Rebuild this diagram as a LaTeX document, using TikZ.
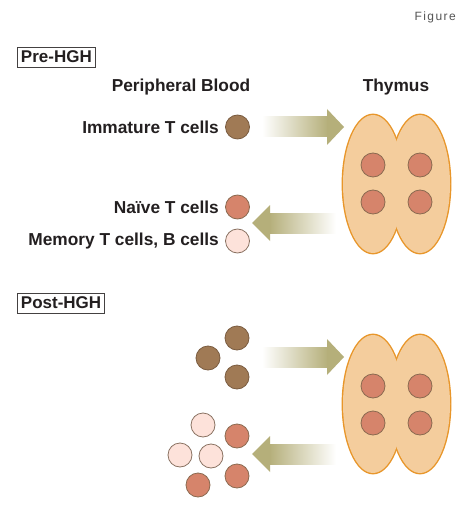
\documentclass[tikz,border=0pt]{standalone}
\usepackage{fontspec}
\setmainfont{Liberation Sans}
\usetikzlibrary{positioning}
\definecolor{txt}{HTML}{231F20}
\definecolor{arrowc}{HTML}{B5AF7A}
\definecolor{immc}{HTML}{A07A55}
\definecolor{immo}{HTML}{7A5C40}
\definecolor{naic}{HTML}{D6846B}
\definecolor{naio}{HTML}{8A6A50}
\definecolor{memc}{HTML}{FDE2DA}
\definecolor{memo}{HTML}{8A7262}
\definecolor{thyc}{HTML}{F4CD9D}
\definecolor{thyo}{HTML}{E8962A}
\definecolor{figc}{HTML}{555555}
\tikzset{
  lbl/.style={text=txt, font=\fontsize{17.3}{20}\selectfont\bfseries, inner sep=0pt},
  sectbox/.style={draw=txt!85, line width=0.9pt, text=txt, font=\fontsize{17}{20}\selectfont\bfseries, minimum height=20pt, inner sep=2pt, inner xsep=3.5pt},
  cell/.style={circle, minimum size=24pt, inner sep=0pt, line width=0.8pt},
  immcell/.style={cell, fill=immc, draw=immo},
  naicell/.style={cell, fill=naic, draw=naio},
  memcell/.style={cell, fill=memc, draw=memo},
  thycell/.style={cell, minimum size=24pt, fill=naic, draw=naio},
}
\newcommand\thymuslobes[1]{%
  \draw[thyo, line width=2.8pt] (373,#1) ellipse [x radius=30, y radius=69];
  \draw[thyo, line width=2.8pt] (420,#1) ellipse [x radius=30, y radius=69];
  \fill[thyc] (373,#1) ellipse [x radius=30, y radius=69];
  \fill[thyc] (420,#1) ellipse [x radius=30, y radius=69];
}
\newcommand\rightfat[2]{% y center, name
  \shade[left color=white, right color=arrowc] (262,#1-10) rectangle (328,#1+10);
  \fill[arrowc] (327,#1-18) -- (344,#1) -- (327,#1+18) -- cycle;
  \coordinate (#2) at (344,#1);
}
\newcommand\leftfat[2]{% y center, name
  \shade[left color=arrowc, right color=white] (269,#1-10) rectangle (336,#1+10);
  \fill[arrowc] (270,#1-18) -- (252,#1) -- (270,#1+18) -- cycle;
  \coordinate (#2) at (252,#1);
}
\begin{document}
\begin{tikzpicture}[x=1pt,y=-1pt]
\useasboundingbox[fill=white] (0,0) rectangle (468,521);

\node[anchor=east, text=figc, font=\fontsize{12}{14}\selectfont\addfontfeature{LetterSpace=12}, inner sep=0pt] (fig) at (456,17) {Figure};

% Pre-HGH
\node[sectbox, anchor=west] (pre) at (17,57) {Pre-HGH};
\node[lbl] (pb) at (181,87) {Peripheral Blood};
\node[lbl] (thy) at (396,87) {Thymus};

\node[lbl, anchor=east] (immt) at (219,127) {Immature T cells};
\node[immcell] (imm) at (237.5,127) {};
\node[lbl, anchor=east] (nait) at (219,207) {Naïve T cells};
\node[naicell] (nai) at (237.5,207) {};
\node[lbl, anchor=east] (memt) at (219,241) {Memory T cells, B cells};
\node[memcell] (mem) at (237.5,241) {};

\rightfat{127}{arA}
\leftfat{223}{arB}

\thymuslobes{184}
\node[thycell] (t1) at (373,165) {};
\node[thycell] (t2) at (420,165) {};
\node[thycell] (t3) at (373,202) {};
\node[thycell] (t4) at (420,202) {};

% Post-HGH
\node[sectbox, anchor=west] (post) at (17,303) {Post-HGH};

\node[immcell] (p1) at (237,338) {};
\node[immcell] (p2) at (208,358) {};
\node[immcell] (p3) at (237,377) {};

\rightfat{357}{arC}
\leftfat{454}{arD}

\thymuslobes{404}
\node[thycell] (u1) at (373,386) {};
\node[thycell] (u2) at (420,386) {};
\node[thycell] (u3) at (373,423) {};
\node[thycell] (u4) at (420,423) {};

\node[memcell] (m1) at (203,425) {};
\node[memcell] (m2) at (180,455) {};
\node[memcell] (m3) at (211,456) {};
\node[naicell] (n1) at (237,436) {};
\node[naicell] (n2) at (237,476) {};
\node[naicell] (n3) at (198,485) {};
\end{tikzpicture}
\end{document}
